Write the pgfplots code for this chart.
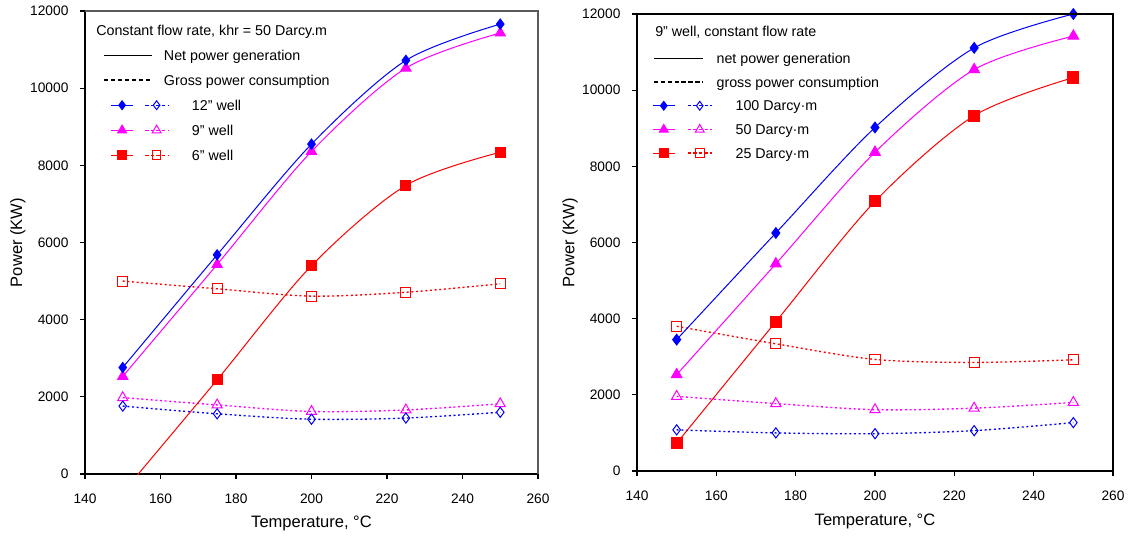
\documentclass[border=0pt]{standalone}
\usepackage{fontspec}
\setmainfont{Liberation Sans}
\usepackage{pgfplots}
\pgfplotsset{compat=1.18}

\definecolor{cblue}{RGB}{0,0,255}
\definecolor{cmag}{RGB}{255,0,255}
\definecolor{cred}{RGB}{255,0,0}
\definecolor{framegray}{RGB}{90,90,90}

\newcommand\legfont{\fontsize{10.7}{12.8}\selectfont}

% legend sample of one series pair: solid line with filled mark, dashed line with open mark
% #1 colour, #2 filled mark, #3 open mark, #4 mark size,
% #5/#6 solid part, #7/#8 dashed part, #9 width reserved for the sample
\newcommand\wellsample[9]{%
  \path[draw=none, fill=none] (0pt,-4.5pt) rectangle (#9,4.5pt);
  \draw[#1, line width=0.75pt] (#5,0pt) -- (#6,0pt);
  \draw[#1, line width=0.75pt, mark=#2, mark size=#4, mark options={solid, fill=#1}]
    plot coordinates {({(#5+#6)/2},0pt)};
  \draw[overlay, #1, line width=1.1pt, dash pattern=on 2.6pt off 1.6pt] (#7,0pt) -- (#8,0pt);
  \draw[overlay, #1, line width=0.75pt, mark=#3, mark size=#4, mark options={solid, fill=white}]
    plot coordinates {({(#7+#8)/2},0pt)};
}

\pgfplotsset{
  powerax/.style={
    scale only axis,
    xmin=140, xmax=260, ymin=0, ymax=12000,
    xtick={140,160,...,260}, ytick={0,2000,...,12000},
    axis x line*=bottom, axis y line*=left,
    axis line style={-, line width=0.9pt, black},
    tick align=outside,
    major tick length=3.75pt,
    every tick/.style={black, line width=0.9pt},
    /pgf/number format/assume math mode=true,
    /pgf/number format/set thousands separator={},
    scaled y ticks=false,
    tick label style={font=\fontsize{10.3}{12}\selectfont},
    xticklabel style={anchor=center, inner sep=0pt, yshift=-14.5pt},
    yticklabel style={anchor=east, inner sep=0pt, xshift=-8.5pt},
    label style={font=\fontsize{12.4}{14.5}\selectfont},
    xlabel={Temperature, °C},
    ylabel={Power (KW)},
    legend cell align=left,
    legend style={draw=none, fill=none, inner sep=0pt, anchor=north west,
      cells={anchor=west},
      nodes={inner sep=0pt, text height=8pt, text depth=0.5pt, font=\legfont}},
  },
  netline/.style={line width=0.75pt, smooth, tension=0.5, mark options={solid}},
  grossline/.style={line width=1pt, smooth, tension=0.5,
    dash pattern=on 1.5pt off 2pt, mark options={solid, line width=0.75pt}},
}

\begin{document}
\begin{tikzpicture}
\path[use as bounding box] (-63.75pt,-46.5pt) rectangle (785.25pt,355.5pt);

% ---------------- wells of different diameter ----------------
\begin{axis}[powerax,
  at={(0pt,0pt)},
  width=339.75pt, height=347.25pt,
  x label style={at={(axis description cs:0.5,-0.106)}, anchor=center},
  y label style={at={(axis description cs:-0.148,0.5)}, anchor=center},
  legend style={at={(axis description cs:0.0397,0.918)},
    row sep=9.75pt, column sep=8.25pt},
  after end axis/.code={
    \draw[framegray, line width=0.9pt] (rel axis cs:0,1) -- (rel axis cs:1,1) -- (rel axis cs:1,0);
  },
]
% gross power consumption
\addplot[grossline, cred, mark=square, mark size=3.8pt, forget plot]
  coordinates {(150,5000) (175,4800) (200,4610) (225,4710) (250,4930)};
\addplot[grossline, cmag, mark=triangle, mark size=4.4pt, forget plot]
  coordinates {(150,1980) (175,1790) (200,1620) (225,1660) (250,1820)};
\addplot[grossline, cblue, mark=diamond, mark size=3.8pt, forget plot]
  coordinates {(150,1760) (175,1560) (200,1420) (225,1450) (250,1600)};
% net power generation (the 150 °C point of the 6" well lies below zero)
\addplot[netline, cred, mark=square*, mark size=3.8pt, mark indices={1,2,3,4}, forget plot]
  coordinates {(150,-480) (175,2440) (200,5400) (225,7480) (250,8340)};
\addplot[netline, cmag, mark=triangle*, mark size=4.4pt, forget plot]
  coordinates {(150,2530) (175,5430) (200,8360) (225,10520) (250,11430)};
\addplot[netline, cblue, mark=diamond*, mark size=3.8pt, forget plot]
  coordinates {(150,2760) (175,5680) (200,8550) (225,10720) (250,11660)};

\node[anchor=west, inner sep=0pt, font=\legfont] at (axis description cs:0.0243,0.9546)
  {Constant flow rate, khr = 50 Darcy.m};

\addlegendimage{legend image code/.code={\path[draw=none, fill=none] (0pt,-4.5pt) rectangle (36pt,4.5pt);
  \draw[black, line width=0.6pt] (0pt,0pt) -- (36pt,0pt);}}
\addlegendentry{Net power generation}
\addlegendimage{legend image code/.code={\path[draw=none, fill=none] (0pt,-4.5pt) rectangle (36pt,4.5pt);
  \draw[black, line width=1.3pt, dash pattern=on 3.2pt off 2pt] (0pt,0pt) -- (36pt,0pt);}}
\addlegendentry{Gross power consumption}
\addlegendimage{legend image code/.code={\wellsample{cblue}{diamond*}{diamond}{3.3pt}{5.25pt}{21.75pt}{30.75pt}{48pt}{36pt}}}
\addlegendentry{\hspace*{21pt}12'' well}
\addlegendimage{legend image code/.code={\wellsample{cmag}{triangle*}{triangle}{3.8pt}{5.25pt}{21.75pt}{30.75pt}{48pt}{36pt}}}
\addlegendentry{\hspace*{21pt}9'' well}
\addlegendimage{legend image code/.code={\wellsample{cred}{square*}{square}{3.2pt}{5.25pt}{21.75pt}{30.75pt}{48pt}{36pt}}}
\addlegendentry{\hspace*{21pt}6'' well}
\end{axis}

% ---------------- 9" well, different permeability-thickness ----------------
\begin{axis}[powerax,
  at={(414pt,2.25pt)},
  width=357pt, height=342.75pt,
  x label style={at={(axis description cs:0.5,-0.11)}, anchor=center},
  y label style={at={(axis description cs:-0.1407,0.5)}, anchor=center},
  legend style={at={(axis description cs:0.0315,0.9168)},
    row sep=8.8pt, column sep=9.75pt},
  after end axis/.code={
    \draw[black, line width=0.9pt] (rel axis cs:0,1) -- (rel axis cs:1,1) -- (rel axis cs:1,0);
  },
]
% gross power consumption
\addplot[grossline, cred, mark=square, mark size=3.8pt, forget plot]
  coordinates {(150,3800) (175,3340) (200,2930) (225,2850) (250,2920)};
\addplot[grossline, cmag, mark=triangle, mark size=4.4pt, forget plot]
  coordinates {(150,1960) (175,1770) (200,1610) (225,1650) (250,1800)};
\addplot[grossline, cblue, mark=diamond, mark size=3.8pt, forget plot]
  coordinates {(150,1080) (175,1000) (200,980) (225,1060) (250,1270)};
% net power generation
\addplot[netline, cred, mark=square*, mark size=4.2pt, forget plot]
  coordinates {(150,730) (175,3920) (200,7080) (225,9330) (250,10330)};
\addplot[netline, cmag, mark=triangle*, mark size=4.6pt, forget plot]
  coordinates {(150,2530) (175,5440) (200,8370) (225,10540) (250,11420)};
\addplot[netline, cblue, mark=diamond*, mark size=4pt, forget plot]
  coordinates {(150,3450) (175,6250) (200,9020) (225,11110) (250,12000)};

\node[anchor=west, inner sep=0pt, font=\legfont] at (axis description cs:0.0378,0.9594)
  {9'' well, constant flow rate};

\addlegendimage{legend image code/.code={\path[draw=none, fill=none] (0pt,-4.5pt) rectangle (36.75pt,4.5pt);
  \draw[black, line width=0.6pt] (0pt,0pt) -- (36.75pt,0pt);}}
\addlegendentry{net power generation}
\addlegendimage{legend image code/.code={\path[draw=none, fill=none] (0pt,-4.5pt) rectangle (36.75pt,4.5pt);
  \draw[black, line width=1.3pt, dash pattern=on 3.2pt off 2pt] (0pt,0pt) -- (36.75pt,0pt);}}
\addlegendentry{gross power consumption}
\addlegendimage{legend image code/.code={\wellsample{cblue}{diamond*}{diamond}{3.3pt}{-0.75pt}{15.75pt}{25.5pt}{43.5pt}{36.75pt}}}
\addlegendentry{\hspace*{14.25pt}100 Darcy·m}
\addlegendimage{legend image code/.code={\wellsample{cmag}{triangle*}{triangle}{3.8pt}{-0.75pt}{15.75pt}{25.5pt}{43.5pt}{36.75pt}}}
\addlegendentry{\hspace*{14.25pt}50 Darcy·m}
\addlegendimage{legend image code/.code={\wellsample{cred}{square*}{square}{3.2pt}{-0.75pt}{15.75pt}{25.5pt}{43.5pt}{36.75pt}}}
\addlegendentry{\hspace*{14.25pt}25 Darcy·m}
\end{axis}
\end{tikzpicture}
\end{document}
